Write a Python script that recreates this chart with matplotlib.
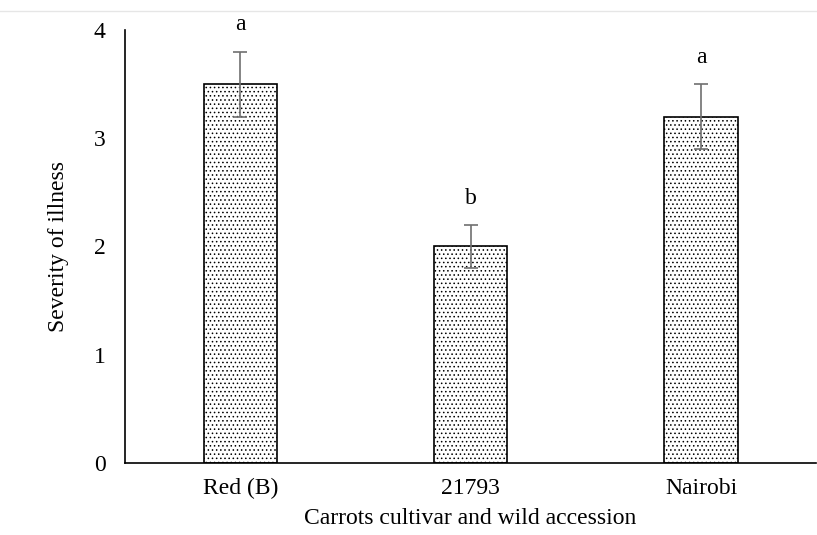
import matplotlib
matplotlib.use("Agg")
import matplotlib.pyplot as plt

plt.rcParams['font.family'] = ['Liberation Serif', 'DejaVu Serif']
plt.rcParams['hatch.linewidth'] = 0.6
plt.rcParams['hatch.color'] = '#555555'

categories = ["Red (B)", "21793", "Nairobi"]
severity = [3.5, 2.0, 3.2]
errors = [0.3, 0.2, 0.3]
letters = ["a", "b", "a"]

fig = plt.figure(figsize=(8.17, 5.35), dpi=100)
ax = fig.add_axes([0.153, 0.1346, 0.846, 0.8094])

# faint frame line at the top of the picture
fig.add_artist(plt.Line2D([0, 1], [0.979, 0.979], color='#e6e6e6', lw=1))

x = range(len(categories))
ax.bar(x, severity, width=0.317, color='white', edgecolor='black',
       linewidth=1.2, hatch='....', zorder=2)
ax.errorbar(x, severity, yerr=errors, fmt='none', ecolor='#707070',
            elinewidth=1.2, capsize=5, capthick=1.2, zorder=3)

for xi, v, e, lab in zip(x, severity, errors, letters):
    ax.text(xi, v + e + 0.15, lab, ha='center', va='bottom', fontsize=17)

ax.set_xlim(-0.5, 2.5)
ax.set_ylim(0, 4)
ax.set_yticks([0, 1, 2, 3, 4])
ax.set_xticks(list(x))
ax.set_xticklabels(categories)
ax.tick_params(length=0, labelsize=17)
ax.tick_params(axis='x', pad=11)
ax.tick_params(axis='y', pad=14)

for s in ['top', 'right']:
    ax.spines[s].set_visible(False)
ax.spines['left'].set_linewidth(1.2)
ax.spines['bottom'].set_linewidth(1.2)

ax.set_ylabel('Severity of illness', fontsize=17, labelpad=18)
ax.set_xlabel('Carrots cultivar and wild accession', fontsize=17, labelpad=6)

fig.savefig('out.png', dpi=100)
